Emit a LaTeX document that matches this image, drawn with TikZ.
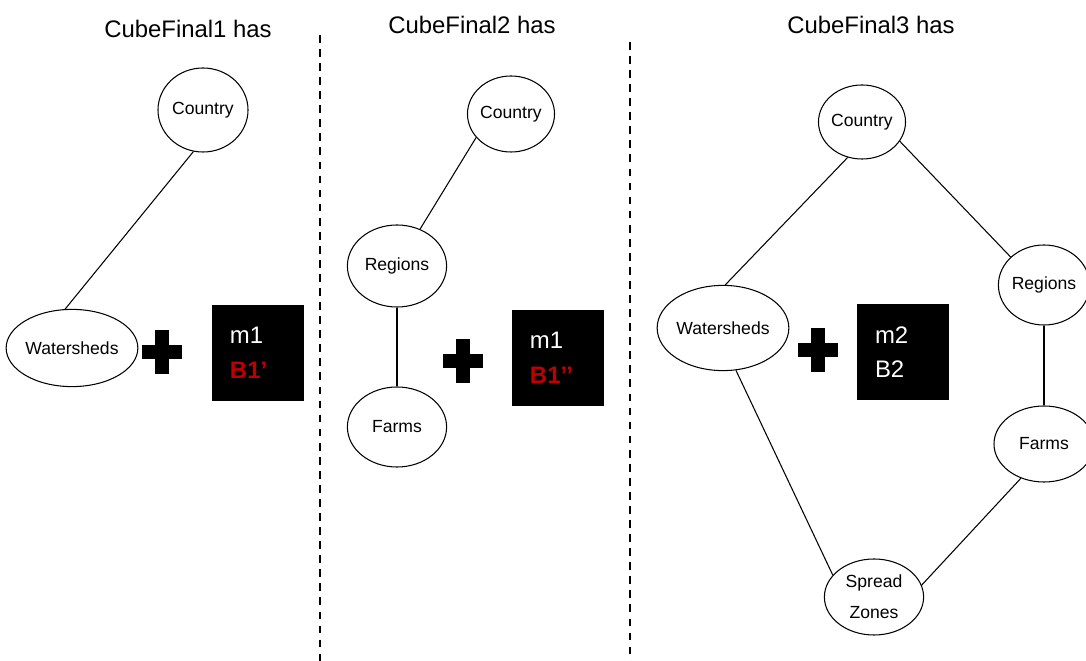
\documentclass[tikz,border=0pt]{standalone}
\usepackage{fontspec}
\setmainfont{Liberation Sans}
\usetikzlibrary{shapes.geometric}
\definecolor{bred}{RGB}{192,0,0}

\begin{document}
\begin{tikzpicture}[
	x=0.025cm, y=-0.025cm,
	title/.style={font=\fontsize{17}{20}\selectfont},
	ent/.style={draw, ellipse, line width=0.75pt, inner sep=0pt, align=center, font=\fontsize{12.5}{22}\selectfont},
	link/.style={line width=0.75pt},
	split/.style={dashed, line width=1.2pt, dash pattern=on 5.5pt off 4.5pt},
	hbar/.style={fill=black, minimum width=1cm, minimum height=0.33cm, inner sep=0pt},
	vbar/.style={fill=black, minimum width=0.33cm, minimum height=1.1cm, inner sep=0pt},
	measure/.style={fill=black, text=white, minimum height=2.38cm, text width=1.4cm, inner xsep=0.45cm, align=left, font=\fontsize{17}{24.5}\selectfont}
	]
	\useasboundingbox (0,0) rectangle (1086,661);
	
	% ======================
	% Trennlinien
	% ======================
	\coordinate (D1top) at (320,35);
	\coordinate (D1bot) at (320,661);
	\coordinate (D2top) at (630,42);
	\coordinate (D2bot) at (630,661);
	\draw[split] (D1top) -- (D1bot);
	\draw[split] (D2top) -- (D2bot);
	
	% ======================
	% CubeFinal1
	% ======================
	\node[title] (T1) at (188,29) {CubeFinal1 has};
	
	\node[ent, minimum width=2.25cm, minimum height=2.1cm] (C1) at (203,110) {Country};
	\node[ent, minimum width=3.15cm, minimum height=1.93cm] (W1) at (72,348) {Watersheds};
	
	\draw[link] (C1.257) -- (W1.100);
	
	\node[hbar] (P1h) at (162,352) {};
	\node[vbar] (P1v) at (162,352) {};
	
	\node[measure] (M1) at (258,353) {m1\\\textcolor{bred}{\textbf{B1’}}};
	
	% ======================
	% CubeFinal2
	% ======================
	\node[title] (T2) at (472,25) {CubeFinal2 has};
	
	\node[ent, minimum width=2.0cm, minimum height=1.9cm] (C2) at (511,114) {Country};
	\node[ent, minimum width=2.48cm, minimum height=2.05cm] (R2) at (397,266) {Regions};
	\node[ent, minimum width=2.48cm, minimum height=2.0cm] (F2) at (397,427) {Farms};
	
	\draw[link] (C2.214) -- (R2.58);
	\draw[link] (R2) -- (F2);
	
	\node[hbar] (P2h) at (463,361) {};
	\node[vbar] (P2v) at (463,361) {};
	
	\node[measure] (M2) at (558,358) {m1\\\textcolor{bred}{\textbf{B1’’}}};
	
	% ======================
	% CubeFinal3
	% ======================
	\node[title] (T3) at (871,25) {CubeFinal3 has};
	
	\node[ent, minimum width=1.95cm, minimum height=1.85cm] (C3) at (862,122) {Country};
	\node[ent, minimum width=2.25cm, minimum height=2.0cm] (R3) at (1044,285) {Regions};
	\node[ent, minimum width=2.95cm, minimum height=2.13cm] (W3) at (723,328) {Watersheds};
	\node[ent, minimum width=2.5cm, minimum height=1.9cm] (F3) at (1044,444) {Farms};
	\node[ent, minimum width=2.48cm, minimum height=1.9cm] (Z3) at (874,597) {Spread\\Zones};
	
	\draw[link] (C3.248) -- (W3.87);
	\draw[link] (C3.333) -- (R3.140);
	\draw[link] (R3) -- (F3);
	\draw[link] (W3.287) -- (Z3.152);
	\draw[link] (F3.236) -- (Z3.14);
	
	\node[hbar] (P3h) at (818,350) {};
	\node[vbar] (P3v) at (818,350) {};
	
	\node[measure] (M3) at (903,352) {m2\\B2};
	
\end{tikzpicture}
\end{document}
